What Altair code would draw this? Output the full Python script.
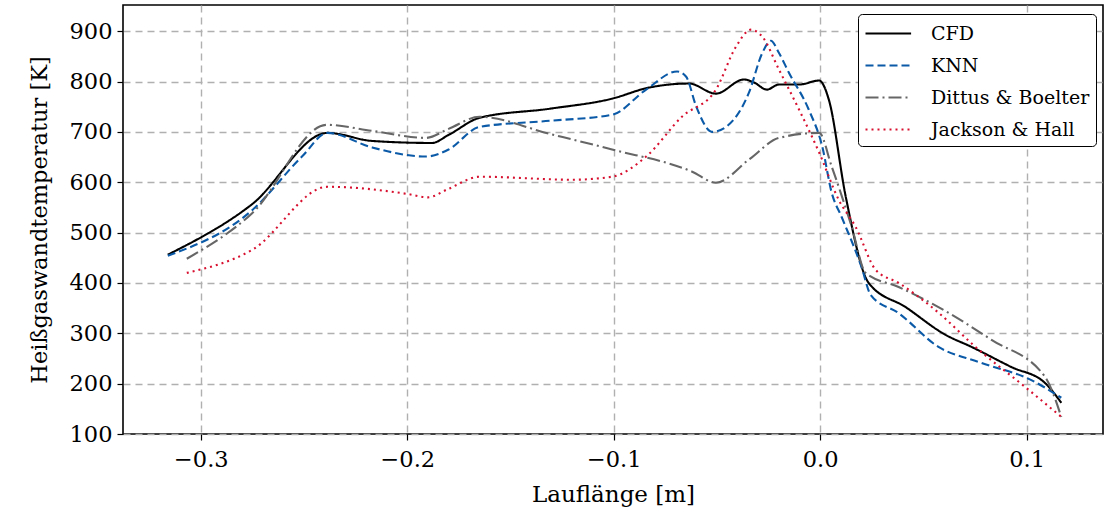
import altair as alt
import pandas as pd

# --- data ---
cfd_x = [-0.316, -0.275, -0.2386, -0.217, -0.188, -0.180, -0.165, -0.131, -0.1008, -0.0829, -0.0635,
         -0.0505, -0.037, -0.032, -0.0258, -0.020, -0.0102, -0.0005, 0.0042, 0.0124, 0.0235,
         0.0414, 0.0607, 0.0733, 0.0926, 0.109, 0.1168]
cfd_y = [456, 557, 698, 682, 678, 694, 728, 746, 766, 788, 796,
         776, 804, 798, 784, 794, 794, 802, 764, 571, 400,
         352, 297, 273, 233, 201, 162]

knn_x = [-0.316, -0.275, -0.251, -0.2386, -0.217, -0.191, -0.180, -0.165, -0.131, -0.1008, -0.0843,
         -0.0693, -0.065, -0.060, -0.0524, -0.0456, -0.0345, -0.028, -0.0239, -0.020, -0.0152,
         -0.0055, 0.0010, 0.0056, 0.0104, 0.020, 0.0245, 0.038, 0.0573, 0.0767, 0.1023, 0.1168]
knn_y = [454, 545, 651, 698, 669, 651, 665, 710, 722, 734, 784,
         820, 810, 750, 700, 710, 778, 857, 881, 857, 818,
         744, 671, 579, 531, 432, 376, 340, 273, 243, 207, 172]

db_x = [-0.3068, -0.275, -0.239, -0.217, -0.191, -0.180, -0.165, -0.131, -0.1008, -0.062, -0.0505,
        -0.0345, -0.020, -0.0005, 0.0056, 0.0153, 0.022, 0.038, 0.0573, 0.083, 0.109, 0.1168]
db_y = [448, 539, 714, 702, 688, 706, 730, 696, 665, 621, 599,
        645, 688, 698, 631, 511, 420, 392, 352, 287, 213, 134]

jh_x = [-0.3068, -0.275, -0.2386, -0.2003, -0.190, -0.180, -0.165, -0.120, -0.1008, -0.0843, -0.067,
        -0.0505, -0.0408, -0.0336, -0.028, -0.020, -0.0102, -0.0005, 0.009, 0.0172, 0.0269,
        0.038, 0.0573, 0.0752, 0.0994, 0.1168]
jh_y = [420, 466, 591, 577, 570, 587, 611, 605, 611, 651, 730,
        784, 869, 903, 889, 824, 744, 659, 565, 511, 426,
        400, 341, 273, 193, 134]

series = ["CFD", "KNN", "Dittus & Boelter", "Jackson & Hall"]
colors = ["#000000", "#0b5aa8", "#666666", "#d7102f"]
dashes = [[1, 0], [8, 4], [13, 4, 2, 4], [2, 4]]

rows = []
for name, xs, ys in [("CFD", cfd_x, cfd_y), ("KNN", knn_x, knn_y),
                     ("Dittus & Boelter", db_x, db_y), ("Jackson & Hall", jh_x, jh_y)]:
    for i, (a, b) in enumerate(zip(xs, ys)):
        rows.append({"x": a, "y": b, "Serie": name, "i": i})
df = pd.DataFrame(rows)

FONT = "DejaVu Serif"

chart = alt.Chart(df).mark_line(interpolate="monotone", strokeWidth=2.1).encode(
    x=alt.X("x:Q", title="Lauflänge [m]",
            scale=alt.Scale(domain=[-0.3377, 0.137], nice=False, zero=False),
            axis=alt.Axis(values=[-0.3, -0.2, -0.1, 0.0, 0.1], format=".1f",
                          titleFontSize=23)),
    y=alt.Y("y:Q", title="Heißgaswandtemperatur [K]",
            scale=alt.Scale(domain=[100, 952], nice=False, zero=False),
            axis=alt.Axis(values=[100, 200, 300, 400, 500, 600, 700, 800, 900],
                          titleFontSize=22.5)),
    color=alt.Color("Serie:N", sort=series,
                    scale=alt.Scale(domain=series, range=colors),
                    legend=alt.Legend(title=None, orient="none", legendX=735, legendY=9,
                                      symbolType="M-1,0H2.8", symbolSize=576, symbolStrokeWidth=2.2,
                                      labelFont=FONT, labelFontSize=19, labelColor="#000",
                                      labelOffset=40, rowPadding=8,
                                      strokeColor="#000", fillColor="white", cornerRadius=4,
                                      padding=6, labelLimit=300)),
    strokeDash=alt.StrokeDash("Serie:N", sort=series,
                              scale=alt.Scale(domain=series, range=dashes), legend=None),
    order="i:Q",
    detail="Serie:N",
).properties(
    width=980, height=429,
    autosize=alt.AutoSizeParams(type="none"),
    padding={"left": 123, "top": 5, "right": 1, "bottom": 86},
).configure_view(
    stroke="#000", strokeWidth=1.6
).configure_axis(
    labelFont=FONT, titleFont=FONT, labelFontSize=22.5,
    labelColor="#000", titleColor="#000", titleFontWeight="normal",
    grid=True, gridColor="#b0b0b0", gridDash=[7, 5], gridWidth=1.4,
    domain=False, tickColor="#000", tickSize=6, tickWidth=1.2,
).configure_axisX(
    labelPadding=8, titlePadding=13,
).configure_axisY(
    labelPadding=5, titlePadding=18,
)

chart.save("out.html", embed_options={"renderer": "svg", "actions": False})
